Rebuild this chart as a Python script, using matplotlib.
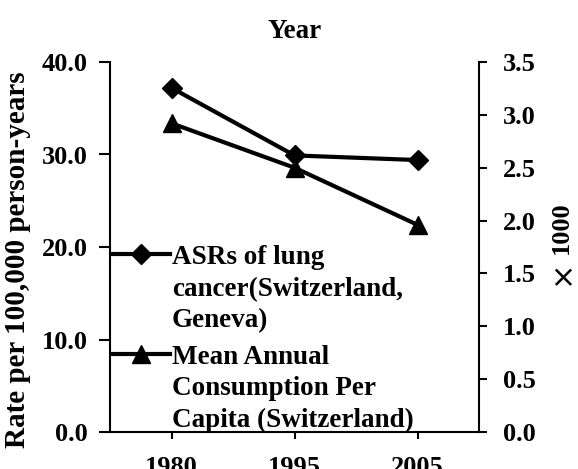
import matplotlib
matplotlib.use("Agg")
import matplotlib.pyplot as plt

years = ["1980", "1995", "2005"]
asr_lung = [37.2, 29.9, 29.4]
consumption = [2.92, 2.50, 1.96]
left_ticks = [0, 10, 20, 30, 40]
right_ticks = [0.0, 0.5, 1.0, 1.5, 2.0, 2.5, 3.0, 3.5]

plt.rcParams['font.family'] = ['Liberation Serif', 'DejaVu Serif']
plt.rcParams['font.weight'] = 'bold'
plt.rcParams['font.size'] = 19

fig = plt.figure(figsize=(5.78, 4.69), dpi=100)
ax = fig.add_axes([110/578, 1-432/469, (479-110)/578, (432-62)/469])
ax2 = ax.twinx()

x = list(range(len(years)))
l1, = ax.plot(x, asr_lung, color='black', lw=3, marker='D', markersize=10, label="ASRs of lung\ncancer(Switzerland,\nGeneva)")
l2, = ax2.plot(x, consumption, color='black', lw=3, marker='^', markersize=13, label="Mean Annual\nConsumption Per\nCapita (Switzerland)")

ax.set_xlim(-0.5, 2.5)
ax.set_ylim(0, 40)
ax2.set_ylim(0, 3.5)
ax.set_xticks(x)
ax.set_xticklabels(years, fontweight='bold')
ax.set_yticks(left_ticks)
ax.set_yticklabels([f"{v:.1f}" for v in left_ticks], fontweight='bold')
ax2.set_yticks(right_ticks)
ax2.set_yticklabels([f"{v:.1f}" for v in right_ticks], fontweight='bold')

for a in (ax, ax2):
    a.spines['top'].set_visible(False)
    for s in a.spines.values():
        s.set_linewidth(1.5)
ax.spines['right'].set_visible(False)
ax2.spines['left'].set_visible(False)
ax2.spines['bottom'].set_visible(False)

ax.tick_params(axis='y', direction='out', length=8, width=1.5, pad=8)
ax.tick_params(axis='x', direction='out', length=5, width=1.5, pad=12)
ax2.tick_params(axis='y', direction='out', length=6, width=1.5, pad=11)

ax.set_ylabel("Rate per 100,000 person-years", fontweight='bold', fontsize=21)
ax.yaxis.set_label_coords(18/578, 1-260/469, transform=fig.transFigure)
ax.yaxis.label.set_va('center')
fig.text(561/578, 1-228/469, "1000", rotation=90, ha='center', va='center',
         fontsize=19, fontweight='bold')
fig.text(561/578, 1-272/469, "×", rotation=90, ha='center', va='center',
         fontsize=22, fontweight='normal', family=['DejaVu Sans'])
ax.set_title("Year", fontweight='bold', fontsize=19.5, pad=17)

leg = ax.legend(handles=[l1, l2], loc='upper left', bbox_to_anchor=(113/578, 1-245/469),
                bbox_transform=fig.transFigure, frameon=False, fontsize=19.5,
                handlelength=2.1, handletextpad=0.08, borderpad=0, borderaxespad=0,
                labelspacing=0.42)
for col in leg._legend_handle_box.get_children():
    for hp in col.get_children():
        hp.align = 'top'
for t in leg.get_texts():
    t.set_linespacing(1.35)

fig.savefig("out.png", dpi=100)
